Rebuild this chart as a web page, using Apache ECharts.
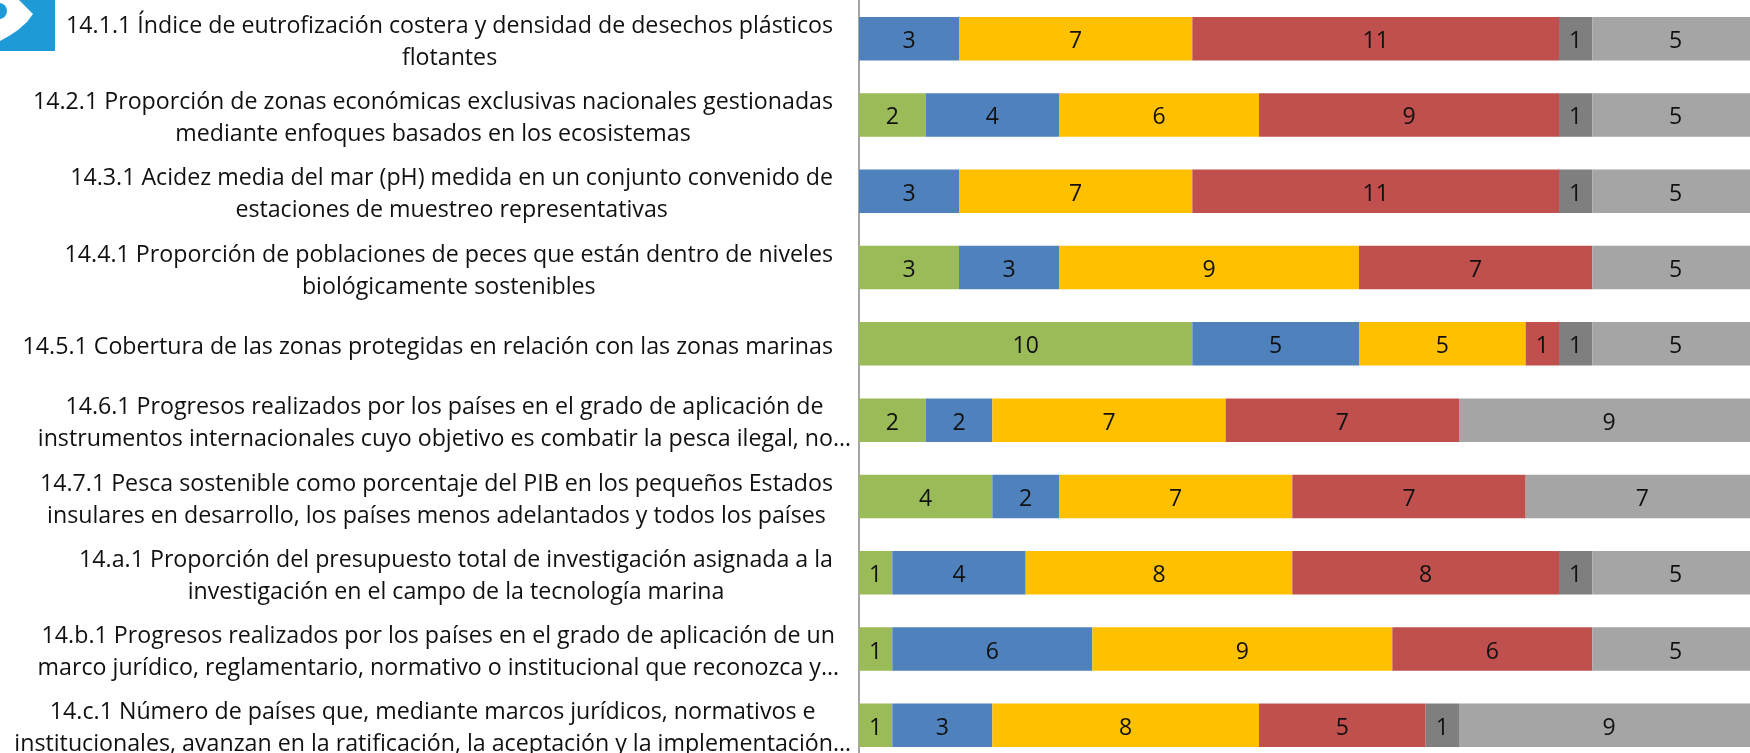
<!DOCTYPE html>
<html><head><meta charset="utf-8">
<style>html,body{margin:0;padding:0;background:#fff;overflow:hidden}#c{width:1750px;height:753px}</style>
<script src="https://cdn.jsdelivr.net/npm/echarts@6/dist/echarts.min.js"></script>
</head><body><div id="c"></div>
<script>
const categories = [
 "14.1.1 Índice de eutrofización costera y densidad de desechos plásticos\nflotantes",
 "14.2.1 Proporción de zonas económicas exclusivas nacionales gestionadas\nmediante enfoques basados en los ecosistemas",
 "14.3.1 Acidez media del mar (pH) medida en un conjunto convenido de\nestaciones de muestreo representativas",
 "14.4.1 Proporción de poblaciones de peces que están dentro de niveles\nbiológicamente sostenibles",
 "14.5.1 Cobertura de las zonas protegidas en relación con las zonas marinas",
 "14.6.1 Progresos realizados por los países en el grado de aplicación de\ninstrumentos internacionales cuyo objetivo es combatir la pesca ilegal, no…",
 "14.7.1 Pesca sostenible como porcentaje del PIB en los pequeños Estados\ninsulares en desarrollo, los países menos adelantados y todos los países",
 "14.a.1 Proporción del presupuesto total de investigación asignada a la\ninvestigación en el campo de la tecnología marina",
 "14.b.1 Progresos realizados por los países en el grado de aplicación de un\nmarco jurídico, reglamentario, normativo o institucional que reconozca y…",
 "14.c.1 Número de países que, mediante marcos jurídicos, normativos e\ninstitucionales, avanzan en la ratificación, la aceptación y la implementación…"
];
const green  = [null,2,null,3,10,2,4,1,1,1];
const blue   = [3,4,3,3,5,2,2,4,6,3];
const yellow = [7,6,7,9,5,7,7,8,9,8];
const red    = [11,9,11,7,1,7,7,8,6,5];
const dark   = [1,1,1,null,1,null,null,1,null,1];
const light  = [5,5,5,5,5,9,7,5,5,9];
const labelPadRight = [18,18,18,18,18,0,18,18,12,0];

const mk = (name,data,color)=>({name,type:'bar',stack:'t',data,barWidth:43.5,
  itemStyle:{color},
  label:{show:true,position:'inside',offset:[0,3],color:'#111',fontFamily:'Open Sans',fontSize:23}});

const chart = echarts.init(document.getElementById('c'),null,{renderer:'canvas'});
chart.setOption({
  animation:false,
  grid:{left:859,top:0.5,width:900,height:763,containLabel:false,outerBoundsMode:'none'},
  xAxis:{type:'value',min:0,max:27,show:false},
  yAxis:{type:'category',inverse:true,
    data:categories.map((c,i)=>({value:c,textStyle:{padding:[7,labelPadRight[i],0,0]}})),
    axisTick:{show:false},
    axisLine:{show:true,lineStyle:{color:'#A6A6A6',width:2}},
    axisLabel:{interval:0,margin:8,align:'right',color:'#111',fontFamily:'Open Sans',fontSize:23.2,lineHeight:32,
      formatter:v=>v.split('\n').map(l=>'{c|'+l+'}').join('\n'),
      rich:{c:{align:'center',fontFamily:'Open Sans',fontSize:23.2,lineHeight:32,color:'#111'}}}
  },
  series:[mk('a',green,'#9BBB59'),mk('b',blue,'#4F81BD'),mk('c',yellow,'#FFC000'),mk('d',red,'#C0504D'),mk('e',dark,'#7F7F7F'),mk('f',light,'#A5A5A5')],
  graphic:[
    {type:'rect',shape:{x:0,y:0,width:55,height:51},style:{fill:'#1E9BD7'},z:10},
    {type:'polygon',shape:{points:[[0,0],[19,0],[33,14],[27,22],[18,30],[9,36],[0,41]]},style:{fill:'#fff'},z:11},
    {type:'circle',shape:{cx:-1,cy:11,r:8},style:{fill:'#1E9BD7'},z:12}
  ]
});
</script></body></html>
